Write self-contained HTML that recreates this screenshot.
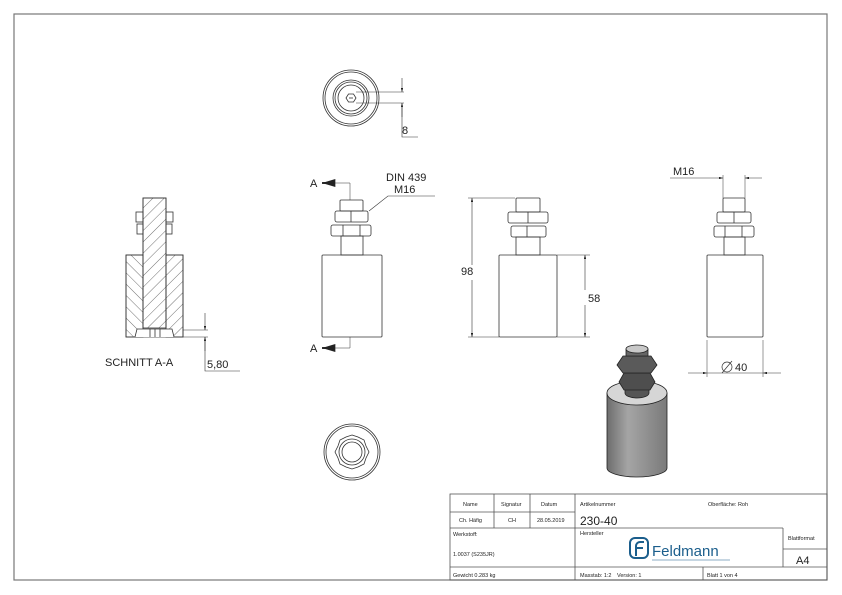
<!DOCTYPE html>
<html><head><meta charset="utf-8"><style>
html,body{margin:0;padding:0;background:#fff;}
svg{display:block;}
text{font-family:"Liberation Sans",sans-serif;fill:#222;}
</style></head><body>
<svg width="842" height="595" viewBox="0 0 842 595" xmlns="http://www.w3.org/2000/svg">
<defs>
<pattern id="hA" width="8" height="8" patternUnits="userSpaceOnUse" patternTransform="rotate(45)"><line x1="0" y1="0" x2="0" y2="8" stroke="#333" stroke-width="0.7"/></pattern>
<pattern id="hB" width="8" height="8" patternUnits="userSpaceOnUse" patternTransform="rotate(-45)"><line x1="0" y1="0" x2="0" y2="8" stroke="#333" stroke-width="0.7"/></pattern>
<linearGradient id="cyl" x1="0" x2="1"><stop offset="0" stop-color="#6d6d6d"/><stop offset="0.35" stop-color="#a5a5a5"/><stop offset="1" stop-color="#7a7a7a"/></linearGradient>
<marker id="ar" viewBox="0 0 10 6" refX="10" refY="3" markerWidth="8" markerHeight="4" orient="auto-start-reverse"><path d="M0,0L10,3L0,6z" fill="#222"/></marker>
</defs>
<rect x="14" y="14" width="813" height="566" fill="none" stroke="#777" stroke-width="1.2"/>

<g fill="none" stroke="#333" stroke-width="0.8">
<circle cx="351" cy="98" r="28"/><circle cx="351" cy="98" r="26"/>
<circle cx="351" cy="98" r="18"/><circle cx="351" cy="98" r="16"/><circle cx="351" cy="98" r="13"/>
<polygon points="346,98 348.5,94 353.5,94 356,98 353.5,102 348.5,102"/>
<line x1="349" y1="98" x2="353" y2="98"/>
<line x1="356" y1="92" x2="404" y2="92" stroke-width="0.5"/>
<line x1="356" y1="103" x2="404" y2="103" stroke-width="0.5"/>
<line x1="402" y1="78" x2="402" y2="92" marker-end="url(#ar)" stroke-width="0.6"/>
<line x1="402" y1="117" x2="402" y2="103" marker-end="url(#ar)" stroke-width="0.6"/>
<polyline points="402,103 402,137 418,137" stroke-width="0.6"/>

<circle cx="352" cy="452" r="28"/><circle cx="352" cy="452" r="26"/>
<polygon points="352,435 358,437 364,440 366,446 369,452 366,458 364,464 358,467 352,469 346,467 340,464 338,458 335,452 338,446 340,440 346,437"/>
<circle cx="352" cy="452" r="13"/><circle cx="352" cy="452" r="10"/>

<rect x="126" y="255" width="17" height="82" fill="url(#hB)"/>
<rect x="166" y="255" width="17" height="82" fill="url(#hA)"/>
<rect x="143" y="198" width="23" height="130" fill="url(#hA)"/>
<path d="M126,255H143V198H166V255H183V337H126Z"/>
<line x1="143" y1="255" x2="143" y2="328"/><line x1="166" y1="255" x2="166" y2="328"/>
<path d="M135,337L137,329H172L174,337" fill="#fff"/>
<line x1="150" y1="329" x2="150" y2="337"/><line x1="155" y1="329" x2="155" y2="337"/><line x1="160" y1="329" x2="160" y2="337"/>
<rect x="136" y="212" width="7" height="10"/><rect x="137" y="224" width="6" height="10"/>
<rect x="166" y="212" width="7" height="10"/><rect x="166" y="224" width="6" height="10"/>
<line x1="183" y1="330" x2="208" y2="330" stroke-width="0.5"/>
<line x1="183" y1="337" x2="208" y2="337" stroke-width="0.5"/>
<line x1="205" y1="313" x2="205" y2="330" marker-end="url(#ar)" stroke-width="0.6"/>
<polyline points="205,351 205,337" marker-end="url(#ar)" stroke-width="0.6"/>
<polyline points="205,337 205,371 240,371" stroke-width="0.6"/>

<rect x="340" y="200" width="23" height="11" rx="1"/>
<rect x="335" y="211" width="33" height="11" rx="2"/><line x1="351" y1="211" x2="351" y2="222"/>
<rect x="331" y="225" width="40" height="11" rx="2"/><line x1="343" y1="225" x2="343" y2="236"/><line x1="360" y1="225" x2="360" y2="236"/>
<rect x="341" y="236" width="22" height="19"/>
<rect x="322" y="255" width="60" height="82" rx="1"/>
<polyline points="350,200 350,183 330,183" stroke-width="0.5"/>
<line x1="330" y1="183" x2="322" y2="183" stroke-width="2" marker-end="url(#ar)"/>
<polyline points="350,337 350,348 330,348" stroke-width="0.5"/>
<line x1="330" y1="348" x2="322" y2="348" stroke-width="2" marker-end="url(#ar)"/>
<polyline points="369,211 388,196 435,196" stroke-width="0.6"/>

<rect x="516" y="198" width="24" height="14" rx="1"/>
<rect x="508" y="212" width="40" height="11" rx="2"/><line x1="528" y1="212" x2="528" y2="223"/>
<rect x="511" y="226" width="35" height="11" rx="2"/><line x1="527" y1="226" x2="527" y2="237"/>
<rect x="516" y="237" width="24" height="18"/>
<rect x="499" y="255" width="58" height="82" rx="1"/>
<line x1="468" y1="198" x2="515" y2="198" stroke-width="0.5"/>
<line x1="468" y1="337" x2="499" y2="337" stroke-width="0.5"/>
<line x1="472" y1="265" x2="472" y2="198" marker-end="url(#ar)" stroke-width="0.6"/>
<line x1="472" y1="280" x2="472" y2="337" marker-end="url(#ar)" stroke-width="0.6"/>
<line x1="557" y1="255" x2="590" y2="255" stroke-width="0.5"/>
<line x1="557" y1="337" x2="590" y2="337" stroke-width="0.5"/>
<line x1="585" y1="290" x2="585" y2="255" marker-end="url(#ar)" stroke-width="0.6"/>
<line x1="585" y1="305" x2="585" y2="337" marker-end="url(#ar)" stroke-width="0.6"/>

<rect x="723" y="198" width="22" height="14" rx="1"/>
<rect x="717" y="212" width="34" height="11" rx="2"/><line x1="734" y1="212" x2="734" y2="223"/>
<rect x="714" y="226" width="40" height="11" rx="2"/><line x1="725" y1="226" x2="725" y2="237"/><line x1="742" y1="226" x2="742" y2="237"/>
<rect x="724" y="237" width="21" height="18"/>
<rect x="707" y="255" width="56" height="82" rx="1"/>
<line x1="723" y1="175" x2="723" y2="198" stroke-width="0.5"/>
<line x1="745" y1="175" x2="745" y2="198" stroke-width="0.5"/>
<line x1="670" y1="178" x2="723" y2="178" stroke-width="0.6" marker-end="url(#ar)"/>
<line x1="762" y1="178" x2="745" y2="178" stroke-width="0.6" marker-end="url(#ar)"/>
<line x1="707" y1="340" x2="707" y2="377" stroke-width="0.5"/>
<line x1="763" y1="340" x2="763" y2="377" stroke-width="0.5"/>
<line x1="688" y1="373" x2="707" y2="373" stroke-width="0.6" marker-end="url(#ar)"/>
<line x1="781" y1="373" x2="763" y2="373" stroke-width="0.6" marker-end="url(#ar)"/>
<line x1="707" y1="373" x2="763" y2="373" stroke-width="0.5"/>
<circle cx="727" cy="367" r="5" stroke-width="0.7"/><line x1="722" y1="373" x2="732" y2="361" stroke-width="0.7"/>
</g>

<g stroke="#222" stroke-width="0.8">
<path d="M607,393V468A30,9 0 0 0 667,468V393Z" fill="url(#cyl)"/>
<ellipse cx="637" cy="393" rx="30" ry="12" fill="#d6d6d6"/>
<path d="M625,393V385H649V393A12,5 0 0 1 625,393Z" fill="#555"/>
<polygon points="619,382 624,373 650,373 655,382 650,390 624,390" fill="#4e4e4e"/>
<polygon points="617,365 623,356 651,356 657,365 651,373 623,373" fill="#5a5a5a"/>
<path d="M626,356V349H648V356Z" fill="#666"/>
<ellipse cx="637" cy="349" rx="11" ry="4" fill="#c8c8c8"/>
</g>

<g font-size="11">
<text x="402" y="134">8</text>
<text x="105" y="366">SCHNITT A-A</text>
<text x="207" y="368">5,80</text>
<text x="310" y="187">A</text>
<text x="310" y="352">A</text>
<text x="386" y="181">DIN 439</text>
<text x="394" y="193">M16</text>
<text x="461" y="275">98</text>
<text x="588" y="302">58</text>
<text x="673" y="175">M16</text>
<text x="735" y="371">40</text>
</g>

<g fill="none" stroke="#555" stroke-width="0.8">
<rect x="450" y="494" width="377" height="86"/>
<line x1="450" y1="512" x2="575" y2="512"/>
<line x1="450" y1="528" x2="783" y2="528"/>
<line x1="450" y1="567" x2="827" y2="567"/>
<line x1="494" y1="494" x2="494" y2="528"/>
<line x1="530" y1="494" x2="530" y2="528"/>
<line x1="575" y1="494" x2="575" y2="580"/>
<line x1="783" y1="528" x2="783" y2="567"/>
<line x1="783" y1="549" x2="827" y2="549"/>
<line x1="703" y1="567" x2="703" y2="580"/>
</g>
<g font-size="5.5" fill="#333">
<text x="463" y="506">Name</text><text x="501" y="506">Signatur</text><text x="541" y="506">Datum</text>
<text x="459" y="522">Ch. Häfig</text><text x="508" y="522">CH</text><text x="537" y="522">28.05.2019</text>
<text x="580" y="506">Artikelnummer</text><text x="708" y="506">Oberfläche:  Roh</text>
<text x="453" y="536">Werkstoff:</text><text x="453" y="556">1.0037 (S235JR)</text>
<text x="580" y="535">Hersteller</text>
<text x="788" y="540">Blattformat</text>
<text x="453" y="577">Gewicht 0.283 kg</text>
<text x="580" y="577">Masstab: 1:2</text><text x="617" y="577">Version: 1</text>
<text x="707" y="577">Blatt 1 von 4</text>
</g>
<text x="580" y="525" font-size="12">230-40</text>
<text x="796" y="564" font-size="11">A4</text>
<g fill="none" stroke="#1b5e8c" stroke-width="2">
<rect x="630" y="538" width="18" height="20" rx="5"/>
<path d="M636,556V546A4,4 0 0 1 640,542H644M636,548H643"/>
</g>
<text x="652" y="556" font-size="15" style="fill:#1b5e8c">Feldmann</text>
<line x1="652" y1="560" x2="730" y2="560" stroke="#1b5e8c" stroke-width="1" opacity="0.5"/>
</svg>
</body></html>
